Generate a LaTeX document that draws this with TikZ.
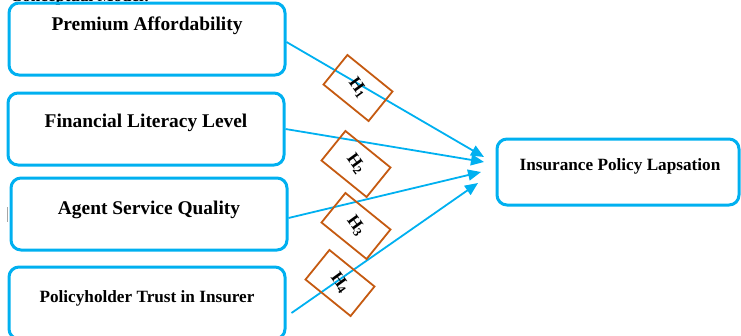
\documentclass[tikz,border=0pt]{standalone}
\usepackage{fontspec}
\setmainfont{Liberation Serif}
\usetikzlibrary{arrows.meta,calc}
\definecolor{cy}{HTML}{00B0F0}
\definecolor{orn}{HTML}{C55A11}
\newcommand{\hyplab}[1]{\rotatebox{-15}{H\textsubscript{#1}}}
\begin{document}
\begin{tikzpicture}[x=1pt,y=-1pt,
 box/.style={draw=cy, line width=3pt, rounded corners=10pt, inner sep=0pt},
 lbl/.style={font=\bfseries\fontsize{19.4}{22}\selectfont, inner sep=0pt},
 lbls/.style={font=\bfseries\fontsize{17.2}{20}\selectfont, inner sep=0pt},
 hyp/.style={draw=orn, line width=1.8pt, minimum width=58pt, minimum height=38pt, rotate=-39, inner sep=0pt,
   font=\bfseries\fontsize{17.5}{19}\selectfont},
 link/.style={draw=cy, line width=1.8pt, -{Triangle[length=13pt,width=11pt]}}]
\useasboundingbox (0,0) rectangle (741,335);
\clip (0,0) rectangle (741,335);
% partially visible heading
\node[anchor=base west, font=\bfseries\fontsize{17}{20}\selectfont, inner sep=0pt] (cm) at (10,1) {Conceptual Model:};
% boxes
\node[box, minimum width=276pt, minimum height=72pt] (b1) at (147,39) {};
\node[box, minimum width=276pt, minimum height=72pt] (b2) at (146,129) {};
\node[box, minimum width=276pt, minimum height=72pt] (b3) at (149,214) {};
\node[box, minimum width=276pt, minimum height=72pt] (b4) at (147,303) {};
\node[box, minimum width=242pt, minimum height=66pt] (tg) at (618,172) {};
% labels
\node[lbl] (l1) at (147,26) {Premium Affordability};
\node[lbl] (l2) at (146,123) {Financial Literacy Level};
\node[lbl] (l3) at (149,210) {Agent Service Quality};
\node[lbls] (l4) at (147,298) {Policyholder Trust in Insurer};
\node[lbls] (lt) at (620,166) {Insurance Policy Lapsation};
% small gray mark
\draw[gray!70, line width=1.6pt] (7.5,207) -- (7.5,222);
% arrow ends
\coordinate (t1) at (484,157);
\coordinate (t2) at (484,162);
\coordinate (t3) at (481,172);
\coordinate (t4) at (478,183);
\coordinate (s4) at ($(b4.east)+(5,10)$);
\draw[link] ($(b1.east)+(0,3)$) -- (t1);
\draw[link] (b2.east) -- (t2);
\draw[link] ($(b3.east)+(0,4)$) -- (t3);
\draw[link] (s4) -- (t4);
% hypothesis boxes
\node[hyp] (h1) at (358,88) {\hyplab{1}};
\node[hyp] (h2) at (356,164) {\hyplab{2}};
\node[hyp] (h3) at (356,226) {\hyplab{3}};
\node[hyp] (h4) at (340,283) {\hyplab{4}};
\end{tikzpicture}
\end{document}
